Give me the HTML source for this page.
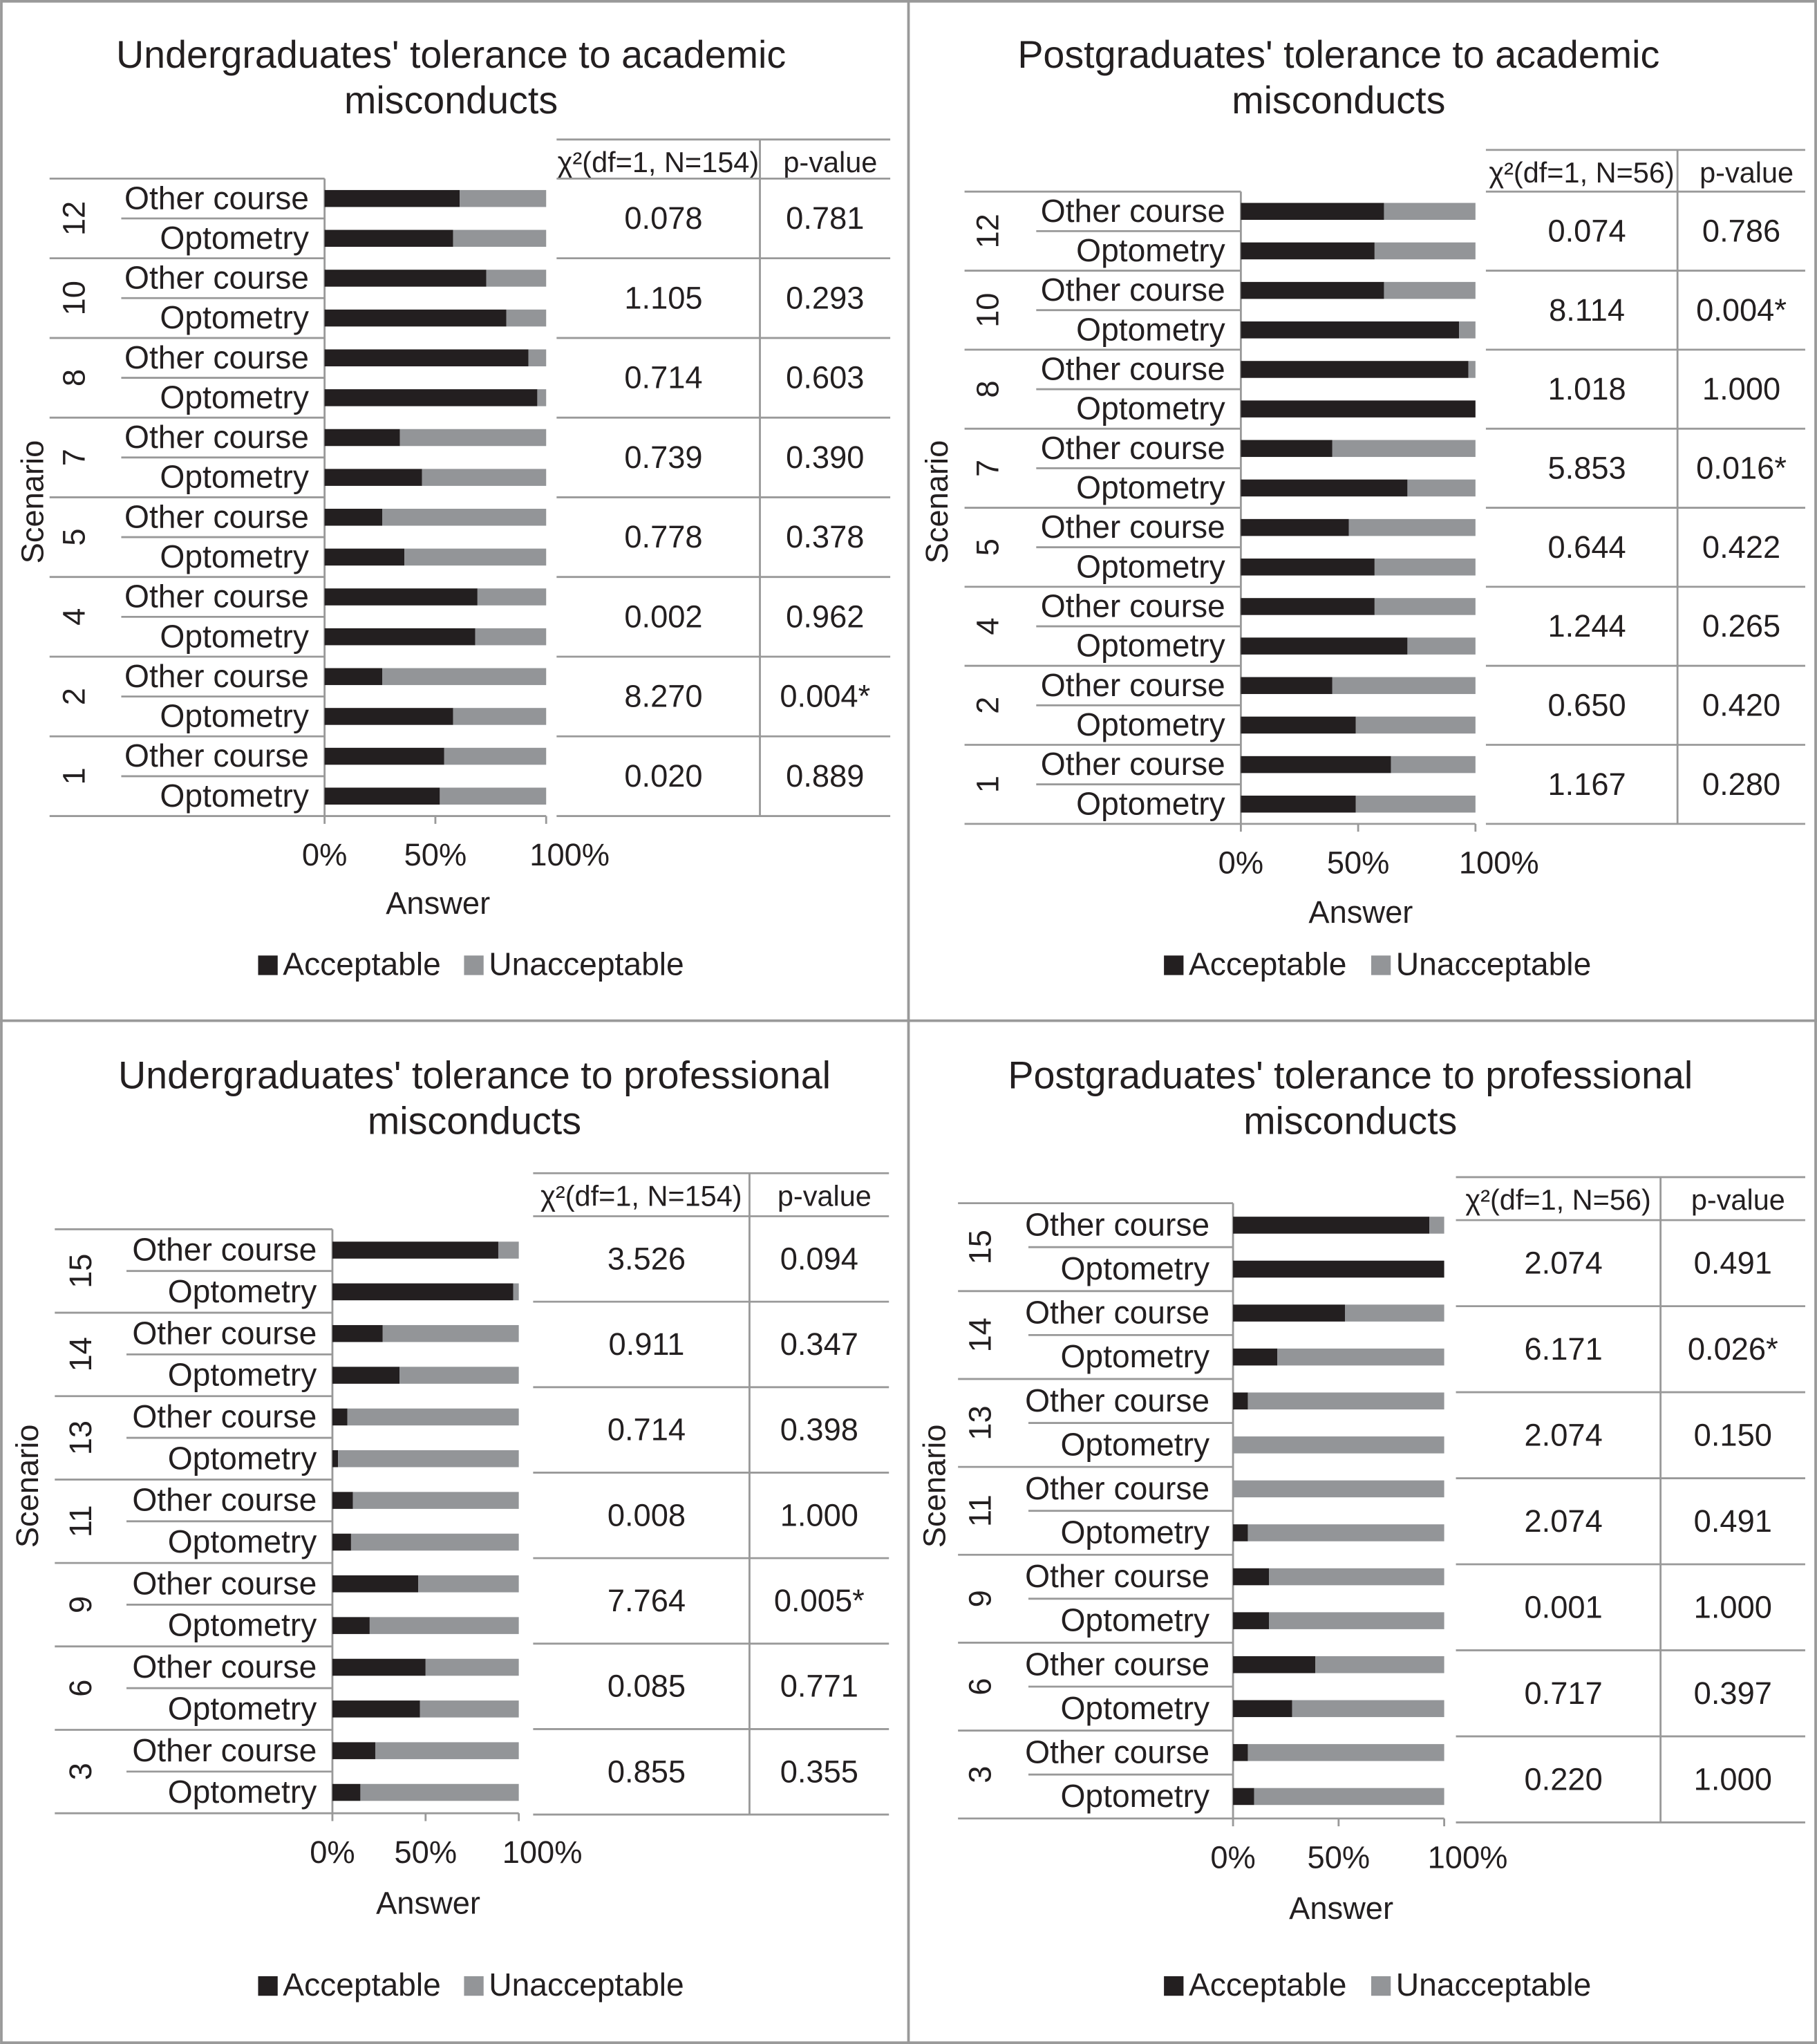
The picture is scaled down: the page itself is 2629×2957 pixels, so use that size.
<!DOCTYPE html>
<html><head><meta charset="utf-8"><style>
html,body{margin:0;padding:0;background:#fff}
svg{display:block}
text{font-family:"Liberation Sans",sans-serif;fill:#231f20}
</style></head><body>
<svg id="fig" width="2629" height="2957" viewBox="0 0 1394 1568" xmlns="http://www.w3.org/2000/svg">
<rect x="1" y="1" width="1392" height="1566" fill="#fff" stroke="#999" stroke-width="2"/>
<line x1="697" y1="0" x2="697" y2="1568" stroke="#999" stroke-width="2"/>
<line x1="0" y1="783" x2="1394" y2="783" stroke="#999" stroke-width="2"/>
</svg>
<script>
// Panel A: undergraduates academic
const scenariosA=["12","10","8","7","5","4","2","1"];
const otherA=[0.61,0.73,0.92,0.34,0.26,0.69,0.26,0.54];
const optoA=[0.58,0.82,0.96,0.44,0.36,0.68,0.58,0.52];
const chiA=["0.078","1.105","0.714","0.739","0.778","0.002","8.270","0.020"];
const pA=["0.781","0.293","0.603","0.390","0.378","0.962","0.004*","0.889"];
// Panel B: postgraduates academic
const scenariosB=["12","10","8","7","5","4","2","1"];
const otherB=[0.61,0.61,0.97,0.39,0.46,0.57,0.39,0.64];
const optoB=[0.57,0.93,1.0,0.71,0.57,0.71,0.49,0.49];
const chiB=["0.074","8.114","1.018","5.853","0.644","1.244","0.650","1.167"];
const pB=["0.786","0.004*","1.000","0.016*","0.422","0.265","0.420","0.280"];
// Panel C: undergraduates professional
const scenariosC=["15","14","13","11","9","6","3"];
const otherC=[0.89,0.27,0.08,0.11,0.46,0.50,0.23];
const optoC=[0.97,0.36,0.03,0.10,0.20,0.47,0.15];
const chiC=["3.526","0.911","0.714","0.008","7.764","0.085","0.855"];
const pC=["0.094","0.347","0.398","1.000","0.005*","0.771","0.355"];
// Panel D: postgraduates professional
const scenariosD=["15","14","13","11","9","6","3"];
const otherD=[0.93,0.53,0.07,0.0,0.17,0.39,0.07];
const optoD=[1.0,0.21,0.0,0.07,0.17,0.28,0.10];
const chiD=["2.074","6.171","2.074","2.074","0.001","0.717","0.220"];
const pD=["0.491","0.026*","0.150","0.491","1.000","0.397","1.000"];
const tickLabels=["0%","50%","100%"];

const svg=document.getElementById('fig');
const NS="http://www.w3.org/2000/svg";
function mk(tag,attrs,txt){const e=document.createElementNS(NS,tag);for(const k in attrs)e.setAttribute(k,attrs[k]);if(txt!==undefined)e.textContent=txt;svg.appendChild(e);return e;}
function line(x1,y1,x2,y2){const l=mk('line',{x1,y1,x2,y2,stroke:'#999','stroke-width':1.5});return l;}

function panel(c,sc,oth,opt,chi,pv,key){
  const t1=mk('text',{x:c.tx,y:c.ty1,'font-size':29.5,'text-anchor':'middle'},c.title1);
  
  const t2=mk('text',{x:c.tx,y:c.ty2,'font-size':29.5,'text-anchor':'middle'},c.title2);
  
  const n=sc.length, rows=n*2, rh=(c.y1-c.y0)/rows;
  const xs=v=>c.x0+v*(c.x1-c.x0);
  line(c.x0,c.y0,c.x0,c.y1);
  for(let i=0;i<=n;i++){line(c.gx,c.y0+i*2*rh,c.x0,c.y0+i*2*rh);}
  for(let i=0;i<n;i++){line(c.lx,c.y0+(2*i+1)*rh,c.x0,c.y0+(2*i+1)*rh);}
  line(c.x0,c.y1,c.x1,c.y1);
  tickLabels.forEach((tl,i)=>{const x=c.x0+i*(c.x1-c.x0)/2;line(x,c.y1,x,c.y1+6);
    const t=mk('text',{x:x+(i==2?18:0),y:c.tky,'font-size':24,'text-anchor':'middle'},tl);
    });
  const at=mk('text',{x:(c.x0+c.x1)/2+2,y:c.ansy,'font-size':24,'text-anchor':'middle'},'Answer');
  
  const yt=mk('text',{x:0,y:0,'font-size':24,'text-anchor':'middle',transform:`translate(${c.ytx},${c.yty}) rotate(-90)`},'Scenario');
  
  const bh=13;
  for(let i=0;i<n;i++){
    const yo=c.y0+(2*i+0.5)*rh, yp=c.y0+(2*i+1.5)*rh;
    const st=mk('text',{x:0,y:0,'font-size':24,'text-anchor':'middle',transform:`translate(${c.sx+8},${yo+rh/2}) rotate(-90)`},sc[i]);
    
    [[yo,oth[i],'Other course'],[yp,opt[i],'Optometry']].forEach(([y,v,lab])=>{
      const lt=mk('text',{x:c.labx,y:y+8,'font-size':24.5,'text-anchor':'end'},lab);
      
      const b1=mk('rect',{x:xs(0),y:y-bh/2,width:xs(v)-xs(0),height:bh,fill:'#231f20'});
      
      const b2=mk('rect',{x:xs(v),y:y-bh/2,width:xs(1)-xs(v),height:bh,fill:'#939598'});
      
    });
  }
  line(c.ta,c.th,c.tc,c.th);
  line(c.tb,c.th,c.tb,c.tr1);
  const h1=mk('text',{x:(c.ta+c.tb)/2,y:c.th+25,'font-size':22,'text-anchor':'middle'},c.chiHead);
  
  const h2=mk('text',{x:(c.tb+c.tc)/2+4,y:c.th+25,'font-size':22,'text-anchor':'middle'},'p-value');
  
  const trh=(c.tr1-c.tr0)/n;
  for(let i=0;i<=n;i++)line(c.ta,c.tr0+i*trh,c.tc,c.tr0+i*trh);
  for(let i=0;i<n;i++){
    const y=c.tr0+(i+0.5)*trh+8;
    const a=mk('text',{x:(c.ta+c.tb)/2+4,y,'font-size':24,'text-anchor':'middle'},chi[i]);
    
    const b=mk('text',{x:(c.tb+c.tc)/2,y,'font-size':24,'text-anchor':'middle'},pv[i]);
    
  }
  const r1=mk('rect',{x:c.lg1,y:c.lgy-15,width:15,height:15,fill:'#231f20'});
  
  const l1=mk('text',{x:c.lg1+19,y:c.lgy,'font-size':24.5},'Acceptable');
  
  const r2=mk('rect',{x:c.lg2,y:c.lgy-15,width:15,height:15,fill:'#939598'});
  
  const l2=mk('text',{x:c.lg2+19,y:c.lgy,'font-size':24.5},'Unacceptable');
  
}
panel({title1:"Undergraduates' tolerance to academic",title2:"misconducts",tx:346,ty1:52,ty2:87,
 x0:249,x1:419,y0:137,y1:626,gx:38,lx:93,labx:237,sx:57,ytx:33,yty:385,tky:664,ansy:701,
 ta:427,tb:583,tc:683,th:107,tr0:137,tr1:626,chiHead:"χ²(df=1, N=154)",lg1:198,lg2:356,lgy:748},
 scenariosA,otherA,optoA,chiA,pA,'panel-ug-academic');
panel({title1:"Postgraduates' tolerance to academic",title2:"misconducts",tx:1027,ty1:52,ty2:87,
 x0:952,x1:1132,y0:147,y1:632,gx:740,lx:795,labx:940,sx:758,ytx:727,yty:385,tky:670,ansy:708,
 ta:1140,tb:1287,tc:1385,th:115,tr0:147,tr1:632,chiHead:"χ²(df=1, N=56)",lg1:893,lg2:1052,lgy:748},
 scenariosB,otherB,optoB,chiB,pB,'panel-pg-academic');
panel({title1:"Undergraduates' tolerance to professional",title2:"misconducts",tx:364,ty1:835,ty2:870,
 x0:255,x1:398,y0:943,y1:1391,gx:42,lx:97,labx:243,sx:62,ytx:29,yty:1140,tky:1429,ansy:1468,
 ta:409,tb:575,tc:682,th:900,tr0:933,tr1:1392,chiHead:"χ²(df=1, N=154)",lg1:198,lg2:356,lgy:1531},
 scenariosC,otherC,optoC,chiC,pC,'panel-ug-professional');
panel({title1:"Postgraduates' tolerance to professional",title2:"misconducts",tx:1036,ty1:835,ty2:870,
 x0:946,x1:1108,y0:923,y1:1395,gx:735,lx:789,labx:928,sx:752,ytx:725,yty:1140,tky:1433,ansy:1472,
 ta:1117,tb:1274,tc:1385,th:903,tr0:936,tr1:1398,chiHead:"χ²(df=1, N=56)",lg1:893,lg2:1052,lgy:1531},
 scenariosD,otherD,optoD,chiD,pD,'panel-pg-professional');
</script>
</body></html>
